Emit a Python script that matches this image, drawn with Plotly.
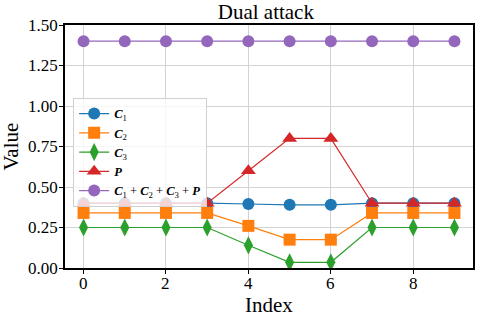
import plotly.graph_objects as go

index = list(range(10))
c1 = [0.40, 0.40, 0.40, 0.40, 0.395, 0.39, 0.39, 0.40, 0.40, 0.40]
c2 = [0.34, 0.34, 0.34, 0.34, 0.26, 0.175, 0.175, 0.34, 0.34, 0.34]
c3 = [0.25, 0.25, 0.25, 0.25, 0.14, 0.035, 0.035, 0.25, 0.25, 0.25]
p = [0.40, 0.40, 0.40, 0.40, 0.60, 0.80, 0.80, 0.40, 0.40, 0.40]
total = [1.40] * 10
x_ticks = [0, 2, 4, 6, 8]
y_ticks = [0.0, 0.25, 0.5, 0.75, 1.0, 1.25, 1.5]

names = ["<b><i>C</i></b><sub>1</sub>", "<b><i>C</i></b><sub>2</sub>", "<b><i>C</i></b><sub>3</sub>",
         "<b><i>P</i></b>",
         "<b><i>C</i></b><sub>1</sub> + <b><i>C</i></b><sub>2</sub> + <b><i>C</i></b><sub>3</sub> + <b><i>P</i></b>"]
colors = ["#1f77b4", "#ff7f0e", "#2ca02c", "#d62728", "#9467bd"]
symbols = ["circle", "square", "diamond-tall", "triangle-up", "circle"]
sizes = [12, 12, 13, 13, 12]
series = [c1, c2, c3, p, total]

fig = go.Figure()
for name, col, sym, sz, ys in zip(names, colors, symbols, sizes, series):
    fig.add_trace(go.Scatter(x=index, y=ys, name=name, mode="lines+markers",
                             line=dict(color=col, width=1.2),
                             marker=dict(symbol=sym, size=sz, color=col, line=dict(width=0))))

font = "Liberation Serif, Times New Roman, serif"
tickf = dict(size=17, family=font, color="black")

annotations = []
for v in y_ticks:
    annotations.append(dict(x=0, xref="paper", y=v, yref="y", text=f"{v:.2f}", showarrow=False,
                            xanchor="right", yanchor="middle", xshift=-5, font=tickf))
for v in x_ticks:
    annotations.append(dict(x=v, xref="x", y=0, yref="paper", text=str(v), showarrow=False,
                            xanchor="center", yanchor="top", yshift=-4, font=tickf))
annotations.append(dict(x=0.5, xref="paper", y=0, yref="paper", text="Index", showarrow=False,
                        xanchor="center", yanchor="top", yshift=-23,
                        font=dict(size=21, family=font, color="black")))
annotations.append(dict(x=0, xref="paper", y=0.5, yref="paper", text="Value", showarrow=False,
                        xanchor="right", yanchor="middle", xshift=-41, textangle=-90,
                        font=dict(size=21, family=font, color="black")))

fig.update_layout(
    width=479, height=318,
    margin=dict(l=65, r=6, t=25, b=50),
    plot_bgcolor="white", paper_bgcolor="white",
    font=dict(family=font, color="black", size=17),
    title=dict(text="Dual attack", x=0.555, xanchor="center", yref="container", y=1, yanchor="top",
               pad=dict(t=4), font=dict(size=21, family=font)),
    showlegend=True,
    legend=dict(x=0.02, y=0.70, xanchor="left", yanchor="top",
                bgcolor="rgba(255,255,255,0.8)", bordercolor="#d0d0d0", borderwidth=1,
                font=dict(size=12.5, family=font), tracegroupgap=0, itemwidth=30),
    xaxis=dict(range=[-0.45, 9.45], tickvals=x_ticks, showgrid=True, gridcolor="#d3d3d3", gridwidth=1,
               showline=True, linecolor="black", linewidth=1.5, mirror=True,
               ticks="outside", ticklen=4, tickcolor="black", zeroline=False,
               showticklabels=False, automargin=False),
    yaxis=dict(range=[0, 1.5], tickvals=y_ticks, showgrid=True, gridcolor="#d3d3d3", gridwidth=1,
               showline=True, linecolor="black", linewidth=1.5, mirror=True,
               ticks="outside", ticklen=4, tickcolor="black", zeroline=False,
               showticklabels=False, automargin=False),
    annotations=annotations,
)
fig.write_html("out.html", config={"displayModeBar": False},
               post_script="document.body.style.margin='0';")
